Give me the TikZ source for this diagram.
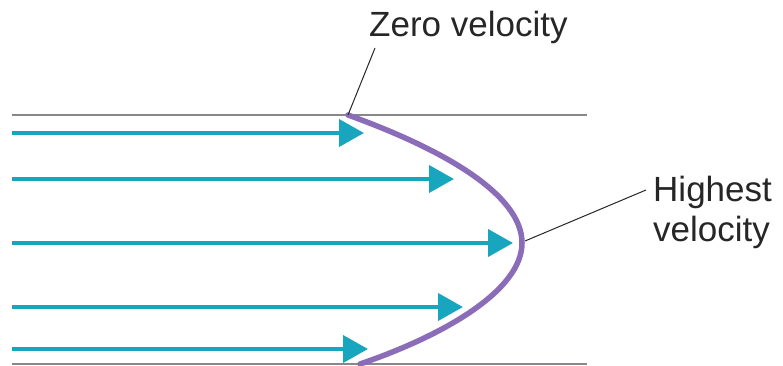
\documentclass[tikz,border=0pt]{standalone}
\usepackage{fontspec}
\setmainfont{Liberation Sans}
\usetikzlibrary{arrows.meta}
\definecolor{flow}{RGB}{24,166,190}
\definecolor{prof}{RGB}{138,108,184}
\definecolor{wall}{RGB}{135,135,140}
\begin{document}
\begin{tikzpicture}[x=1pt,y=-1pt,
  wallline/.style={draw=wall,line width=2.2pt},
  flowarrow/.style={draw=flow,line width=4pt,-{Triangle[length=25pt,width=27pt]}},
  profile/.style={draw=prof,line width=5.5pt,line cap=round},
  leader/.style={draw=black!85,line width=1pt},
  lbl/.style={font=\fontsize{35}{40}\selectfont,inner sep=0pt,text=black!85}]
\useasboundingbox (0,0) rectangle (783,366);
% walls
\coordinate (tw1) at (12,115); \coordinate (tw2) at (587,115);
\coordinate (bw1) at (12,364); \coordinate (bw2) at (587,364);
\draw[wallline] (tw1) -- (tw2);
\draw[wallline] (bw1) -- (bw2);
% arrows
\coordinate (a1s) at (12,133); \coordinate (a1e) at (364,133);
\coordinate (a2s) at (12,179); \coordinate (a2e) at (454,179);
\coordinate (a3s) at (12,243); \coordinate (a3e) at (513,243);
\coordinate (a4s) at (12,307); \coordinate (a4e) at (463,307);
\coordinate (a5s) at (12,349); \coordinate (a5e) at (368,349);
\foreach \i in {1,...,5} {\draw[flowarrow] (a\i s) -- (a\i e);}
% velocity profile
\coordinate (ptop) at (348,115);
\coordinate (pmid) at (522,243);
\coordinate (pbot) at (360,364);
\draw[profile] (ptop) .. controls (445,150) and (522,195) .. (pmid)
  .. controls (522,290) and (445,335) .. (pbot);
% labels
\node[lbl,anchor=base west] (zero) at (369,37) {Zero velocity};
\node[lbl,anchor=base west,align=left] (high) at (653,241) {Highest\\velocity};
\coordinate (zl) at (375,48);
\coordinate (hl) at (646,190);
\draw[leader] (ptop) -- (zl);
\draw[leader] (pmid) ++(3,-2) -- (hl);
\end{tikzpicture}
\end{document}
